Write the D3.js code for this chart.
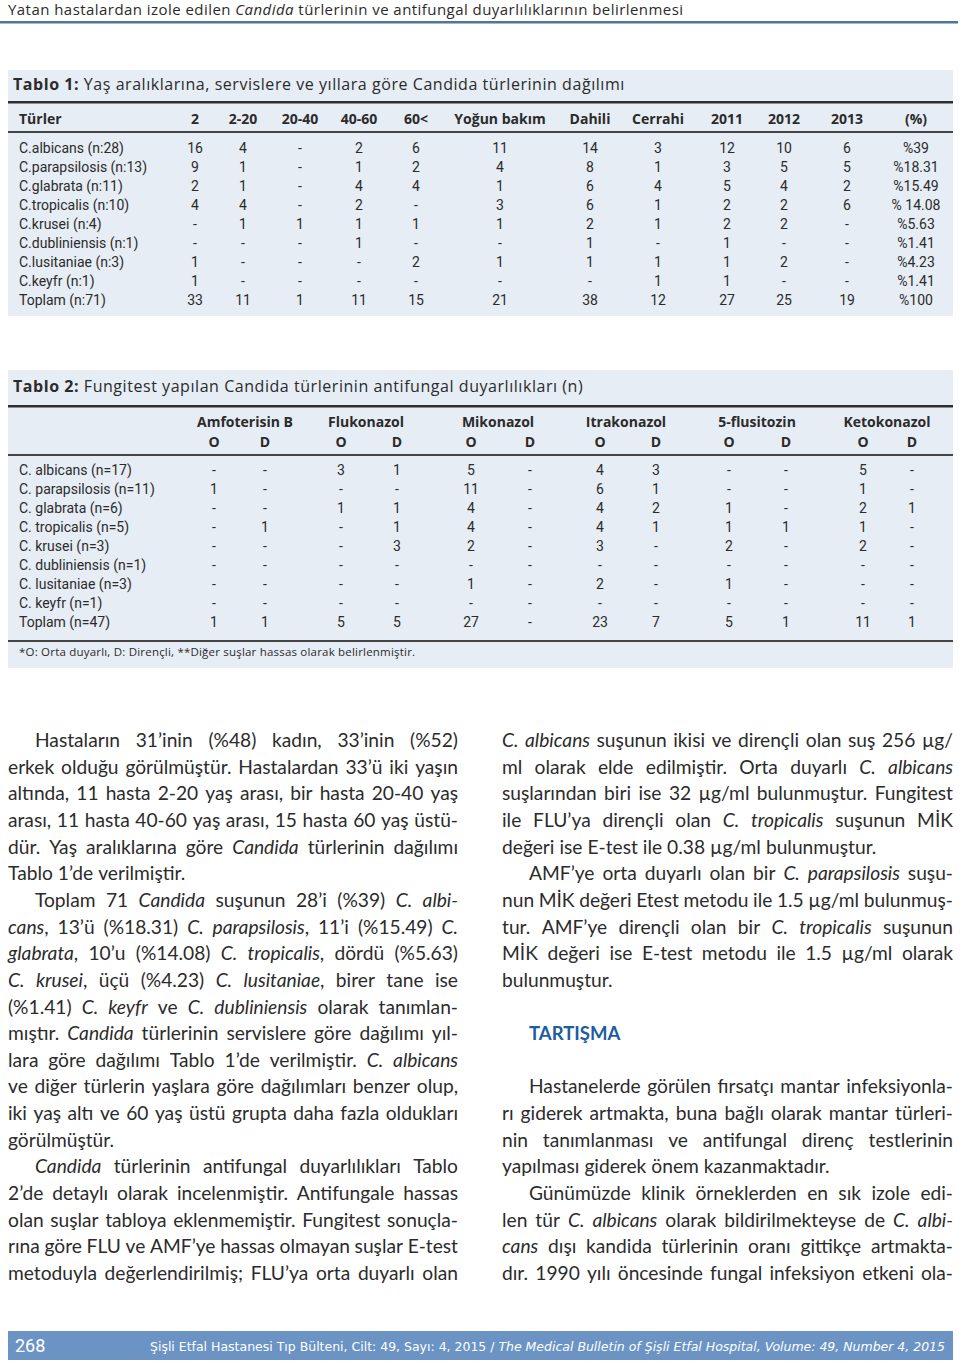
<!DOCTYPE html>
<html>
<head>
<meta charset="utf-8">
<script src="https://cdn.jsdelivr.net/npm/d3@7/dist/d3.min.js"></script>
<style>
  body { margin: 0; background: #fff; }
  svg text { fill: #2b2b2b; }
</style>
</head>
<body>
<script>
// ---- Tablo 1 data ----
const t1Species = ["C.albicans (n:28)", "C.parapsilosis (n:13)", "C.glabrata (n:11)", "C.tropicalis (n:10)",
  "C.krusei (n:4)", "C.dubliniensis (n:1)", "C.lusitaniae (n:3)", "C.keyfr (n:1)", "Toplam (n:71)"];
const t1Columns = ["2", "2-20", "20-40", "40-60", "60<", "Yoğun bakım", "Dahili", "Cerrahi", "2011", "2012", "2013", "(%)"];
// 0 is printed as "-"
const t1Values = [
  [16, 4, 0, 2, 6, 11, 14, 3, 12, 10, 6],
  [9, 1, 0, 1, 2, 4, 8, 1, 3, 5, 5],
  [2, 1, 0, 4, 4, 1, 6, 4, 5, 4, 2],
  [4, 4, 0, 2, 0, 3, 6, 1, 2, 2, 6],
  [0, 1, 1, 1, 1, 1, 2, 1, 2, 2, 0],
  [0, 0, 0, 1, 0, 0, 1, 0, 1, 0, 0],
  [1, 0, 0, 0, 2, 1, 1, 1, 1, 2, 0],
  [1, 0, 0, 0, 0, 0, 0, 1, 1, 0, 0],
  [33, 11, 1, 11, 15, 21, 38, 12, 27, 25, 19]
];
const t1Pct = ["%39", "%18.31", "%15.49", "% 14.08", "%5.63", "%1.41", "%4.23", "%1.41", "%100"];

// ---- Tablo 2 data ----
const t2Species = ["C. albicans (n=17)", "C. parapsilosis (n=11)", "C. glabrata (n=6)", "C. tropicalis (n=5)",
  "C. krusei (n=3)", "C. dubliniensis (n=1)", "C. lusitaniae (n=3)", "C. keyfr (n=1)", "Toplam (n=47)"];
const t2Drugs = ["Amfoterisin B", "Flukonazol", "Mikonazol", "Itrakonazol", "5-flusitozin", "Ketokonazol"];
const t2Sub = ["O", "D"];
const t2Values = [
  [0, 0, 3, 1, 5, 0, 4, 3, 0, 0, 5, 0],
  [1, 0, 0, 0, 11, 0, 6, 1, 0, 0, 1, 0],
  [0, 0, 1, 1, 4, 0, 4, 2, 1, 0, 2, 1],
  [0, 1, 0, 1, 4, 0, 4, 1, 1, 1, 1, 0],
  [0, 0, 0, 3, 2, 0, 3, 0, 2, 0, 2, 0],
  [0, 0, 0, 0, 0, 0, 0, 0, 0, 0, 0, 0],
  [0, 0, 0, 0, 1, 0, 2, 0, 1, 0, 0, 0],
  [0, 0, 0, 0, 0, 0, 0, 0, 0, 0, 0, 0],
  [1, 1, 5, 5, 27, 0, 23, 7, 5, 1, 11, 1]
];

// ---- body text (_..._ = italic) ----
const leftParas = [
  { row: 0, lines: [
    "Hastaların 31’inin (%48) kadın, 33’inin (%52)",
    "erkek olduğu görülmüştür. Hastalardan 33’ü iki yaşın",
    "altında, 11 hasta 2-20 yaş arası, bir hasta 20-40 yaş",
    "arası, 11 hasta 40-60 yaş arası, 15 hasta 60 yaş üstü-",
    "dür. Yaş aralıklarına göre _Candida_ türlerinin dağılımı",
    "Tablo 1’de verilmiştir."] },
  { row: 6, lines: [
    "Toplam 71 _Candida_ suşunun 28’i (%39) _C. albi-_",
    "_cans_, 13’ü (%18.31) _C. parapsilosis_, 11’i (%15.49) _C._",
    "_glabrata_, 10’u (%14.08) _C. tropicalis_, dördü (%5.63)",
    "_C. krusei_, üçü (%4.23) _C. lusitaniae_, birer tane ise",
    "(%1.41) _C. keyfr_ ve _C. dubliniensis_ olarak tanımlan-",
    "mıştır. _Candida_ türlerinin servislere göre dağılımı yıl-",
    "lara göre dağılımı Tablo 1’de verilmiştir. _C. albicans_",
    "ve diğer türlerin yaşlara göre dağılımları benzer olup,",
    "iki yaş altı ve 60 yaş üstü grupta daha fazla oldukları",
    "görülmüştür."] },
  { row: 16, cont: true, lines: [
    "_Candida_ türlerinin antifungal duyarlılıkları Tablo",
    "2’de detaylı olarak incelenmiştir. Antifungale hassas",
    "olan suşlar tabloya eklenmemiştir. Fungitest sonuçla-",
    "rına göre FLU ve AMF’ye hassas olmayan suşlar E-test",
    "metoduyla değerlendirilmiş; FLU’ya orta duyarlı olan"] }
];
const rightParas = [
  { row: 0, noIndent: true, lines: [
    "_C. albicans_ suşunun ikisi ve dirençli olan suş 256 µg/",
    "ml olarak elde edilmiştir. Orta duyarlı _C. albicans_",
    "suşlarından biri ise 32 µg/ml bulunmuştur. Fungitest",
    "ile FLU’ya dirençli olan _C. tropicalis_ suşunun MİK",
    "değeri ise E-test ile 0.38 µg/ml bulunmuştur."] },
  { row: 5, lines: [
    "AMF’ye orta duyarlı olan bir _C. parapsilosis_ suşu-",
    "nun MİK değeri Etest metodu ile 1.5 µg/ml bulunmuş-",
    "tur. AMF’ye dirençli olan bir _C. tropicalis_ suşunun",
    "MİK değeri ise E-test metodu ile 1.5 µg/ml olarak",
    "bulunmuştur."] },
  { row: 13, lines: [
    "Hastanelerde görülen fırsatçı mantar infeksiyonla-",
    "rı giderek artmakta, buna bağlı olarak mantar türleri-",
    "nin tanımlanması ve antifungal direnç testlerinin",
    "yapılması giderek önem kazanmaktadır."] },
  { row: 17, cont: true, lines: [
    "Günümüzde klinik örneklerden en sık izole edi-",
    "len tür _C. albicans_ olarak bildirilmekteyse de _C. albi-_",
    "_cans_ dışı kandida türlerinin oranı gittikçe artmakta-",
    "dır. 1990 yılı öncesinde fungal infeksiyon etkeni ola-"] }
];

const svg = d3.select("body").append("svg")
  .attr("width", 960)
  .attr("height", 1362);

const tableFont = "Roboto, 'DejaVu Sans', sans-serif";
const headFont = "'Open Sans', 'DejaVu Sans', sans-serif";
const bodyFont = "Lato, 'Open Sans', sans-serif";

// running head
svg.append("text")
  .attr("x", 8).attr("y", 15)
  .attr("font-family", headFont).attr("font-size", 15)
  .attr("letter-spacing", 0.45)
  .call(t => {
    t.append("tspan").text("Yatan hastalardan izole edilen ");
    t.append("tspan").attr("font-style", "italic").text("Candida");
    t.append("tspan").text(" türlerinin ve antifungal duyarlılıklarının belirlenmesi");
  });
svg.append("rect").attr("x", 0).attr("y", 21).attr("width", 958).attr("height", 2.5).attr("fill", "#4f7597");

const fmt = v => v === 0 ? "-" : String(v);

// ================= Tablo 1 =================
const g1 = svg.append("g").attr("font-family", tableFont);
g1.append("rect").attr("x", 8).attr("y", 70).attr("width", 945).attr("height", 246).attr("fill", "#e6edf5");
g1.append("text").attr("x", 13).attr("y", 90).attr("font-size", 16).attr("font-family", headFont)
  .attr("letter-spacing", 0.55)
  .call(t => {
    t.append("tspan").attr("font-weight", "bold").text("Tablo 1:");
    t.append("tspan").text(" Yaş aralıklarına, servislere ve yıllara göre Candida türlerinin dağılımı");
  });
g1.append("rect").attr("x", 8).attr("y", 101).attr("width", 945).attr("height", 2.5).attr("fill", "#2e2e2e");
g1.append("rect").attr("x", 8).attr("y", 131).attr("width", 945).attr("height", 2).attr("fill", "#444");

const x1 = d3.scaleOrdinal()
  .domain(t1Columns)
  .range([195, 243, 300, 359, 416, 500, 590, 658, 727, 784, 847, 916]);
const y1 = d3.scalePoint()
  .domain(t1Species)
  .range([148, 300]);

g1.append("text").attr("x", 19).attr("y", 124).attr("font-family", headFont)
  .attr("font-size", 14).attr("font-weight", "bold").text("Türler");
g1.selectAll(".h1").data(t1Columns).enter().append("text")
  .attr("class", "h1")
  .attr("x", d => x1(d)).attr("y", 124)
  .attr("text-anchor", "middle").attr("font-family", headFont)
  .attr("font-size", 14).attr("font-weight", "bold")
  .text(d => d);

const rows1 = g1.selectAll(".r1").data(t1Species).enter().append("g").attr("class", "r1")
  .attr("font-size", 14);
rows1.append("text").attr("x", 19).attr("y", d => y1(d)).attr("dy", "0.36em").text(d => d);
rows1.each(function (sp, i) {
  d3.select(this).selectAll(".c").data(t1Values[i]).enter().append("text")
    .attr("x", (d, j) => x1(t1Columns[j]))
    .attr("y", y1(sp)).attr("dy", "0.36em")
    .attr("text-anchor", "middle")
    .text(fmt);
  d3.select(this).append("text")
    .attr("x", x1("(%)")).attr("y", y1(sp)).attr("dy", "0.36em")
    .attr("text-anchor", "middle")
    .text(t1Pct[i]);
});

// ================= Tablo 2 =================
const g2 = svg.append("g").attr("font-family", tableFont);
g2.append("rect").attr("x", 8).attr("y", 370).attr("width", 945).attr("height", 298).attr("fill", "#e6edf5");
g2.append("text").attr("x", 13).attr("y", 392).attr("font-size", 16).attr("font-family", headFont)
  .attr("letter-spacing", 0.55)
  .call(t => {
    t.append("tspan").attr("font-weight", "bold").text("Tablo 2:");
    t.append("tspan").text(" Fungitest yapılan Candida türlerinin antifungal duyarlılıkları (n)");
  });
g2.append("rect").attr("x", 8).attr("y", 405).attr("width", 945).attr("height", 2.5).attr("fill", "#2e2e2e");
g2.append("rect").attr("x", 8).attr("y", 454).attr("width", 945).attr("height", 2).attr("fill", "#444");
g2.append("rect").attr("x", 8).attr("y", 640).attr("width", 945).attr("height", 2).attr("fill", "#444");

const t2Keys = [];
t2Drugs.forEach(d => t2Sub.forEach(s => t2Keys.push(d + "|" + s)));
const x2 = d3.scaleOrdinal()
  .domain(t2Keys)
  .range([214, 265, 341, 397, 471, 530, 600, 656, 729, 786, 863, 912]);
const xg2 = d3.scaleOrdinal()
  .domain(t2Drugs)
  .range([245, 366, 498, 626, 757, 887]);
const y2 = d3.scalePoint()
  .domain(t2Species)
  .range([470, 622]);

g2.selectAll(".hd").data(t2Drugs).enter().append("text")
  .attr("x", d => xg2(d)).attr("y", 427)
  .attr("text-anchor", "middle").attr("font-family", headFont)
  .attr("font-size", 14).attr("font-weight", "bold")
  .text(d => d);
g2.selectAll(".hs").data(t2Keys).enter().append("text")
  .attr("x", d => x2(d)).attr("y", 447)
  .attr("text-anchor", "middle").attr("font-family", headFont)
  .attr("font-size", 14).attr("font-weight", "bold")
  .text(d => d.split("|")[1]);

const rows2 = g2.selectAll(".r2").data(t2Species).enter().append("g").attr("class", "r2")
  .attr("font-size", 14);
rows2.append("text").attr("x", 19).attr("y", d => y2(d)).attr("dy", "0.36em").text(d => d);
rows2.each(function (sp, i) {
  d3.select(this).selectAll(".c").data(t2Values[i]).enter().append("text")
    .attr("x", (d, j) => x2(t2Keys[j]))
    .attr("y", y2(sp)).attr("dy", "0.36em")
    .attr("text-anchor", "middle")
    .text(fmt);
});
g2.append("text").attr("x", 19).attr("y", 656).attr("font-family", headFont).attr("font-size", 11.5)
  .attr("letter-spacing", 0.2)
  .text("*O: Orta duyarlı, D: Dirençli, **Diğer suşlar hassas olarak belirlenmiştir.");

// ================= body text =================
const body = svg.append("g").attr("font-family", bodyFont).attr("font-size", 19.2);
const lineY = r => 747 + r * 26.65;

function setLine(g, str, x0, x1, y, justify) {
  const words = [];
  let it = false, cur = [], buf = "";
  const flush = () => { if (buf) { cur.push({ t: buf, it: it }); buf = ""; } };
  for (const ch of str) {
    if (ch === "_") { flush(); it = !it; }
    else if (ch === " ") { flush(); if (cur.length) words.push(cur); cur = []; }
    else buf += ch;
  }
  flush();
  if (cur.length) words.push(cur);
  const nodes = words.map(w => {
    const t = g.append("text").attr("y", y);
    w.forEach(s => t.append("tspan").attr("font-style", s.it ? "italic" : null).text(s.t));
    return t;
  });
  const wid = nodes.map(n => n.node().getComputedTextLength());
  const gap = justify && nodes.length > 1 ? (x1 - x0 - d3.sum(wid)) / (nodes.length - 1) : 5;
  let x = x0;
  nodes.forEach((n, i) => { n.attr("x", x); x += wid[i] + gap; });
}

function column(paras, x0, x1) {
  paras.forEach(p => {
    p.lines.forEach((ln, i) => {
      const last = i === p.lines.length - 1 && !p.cont;
      const start = (i === 0 && !p.noIndent) ? x0 + 27 : x0;
      setLine(body, ln, start, x1, lineY(p.row + i), !last);
    });
  });
}
column(leftParas, 8, 458);
column(rightParas, 502, 953);

svg.append("text")
  .attr("x", 529).attr("y", lineY(11))
  .attr("font-family", bodyFont).attr("font-size", 18.5).attr("font-weight", "bold")
  .style("fill", "#1d5c9e")
  .text("TARTIŞMA");

// ================= footer =================
svg.append("rect").attr("x", 8).attr("y", 1331).attr("width", 945).attr("height", 29).attr("fill", "#6b94c5");
svg.append("text").attr("x", 15).attr("y", 1352)
  .attr("font-family", tableFont).attr("font-size", 18)
  .style("fill", "#fff").text("268");
svg.append("text").attr("x", 150).attr("y", 1351)
  .attr("font-family", "'DejaVu Sans Condensed', 'DejaVu Sans', sans-serif").attr("font-size", 13)
  .attr("textLength", 795).attr("lengthAdjust", "spacingAndGlyphs")
  .style("fill", "#fff")
  .call(t => {
    t.append("tspan").style("fill", "#fff").text("Şişli Etfal Hastanesi Tıp Bülteni, Cilt: 49, Sayı: 4, 2015 / ");
    t.append("tspan").style("fill", "#fff").attr("font-style", "italic")
      .text("The Medical Bulletin of Şişli Etfal Hospital, Volume: 49, Number 4, 2015");
  });
</script>
</body>
</html>
